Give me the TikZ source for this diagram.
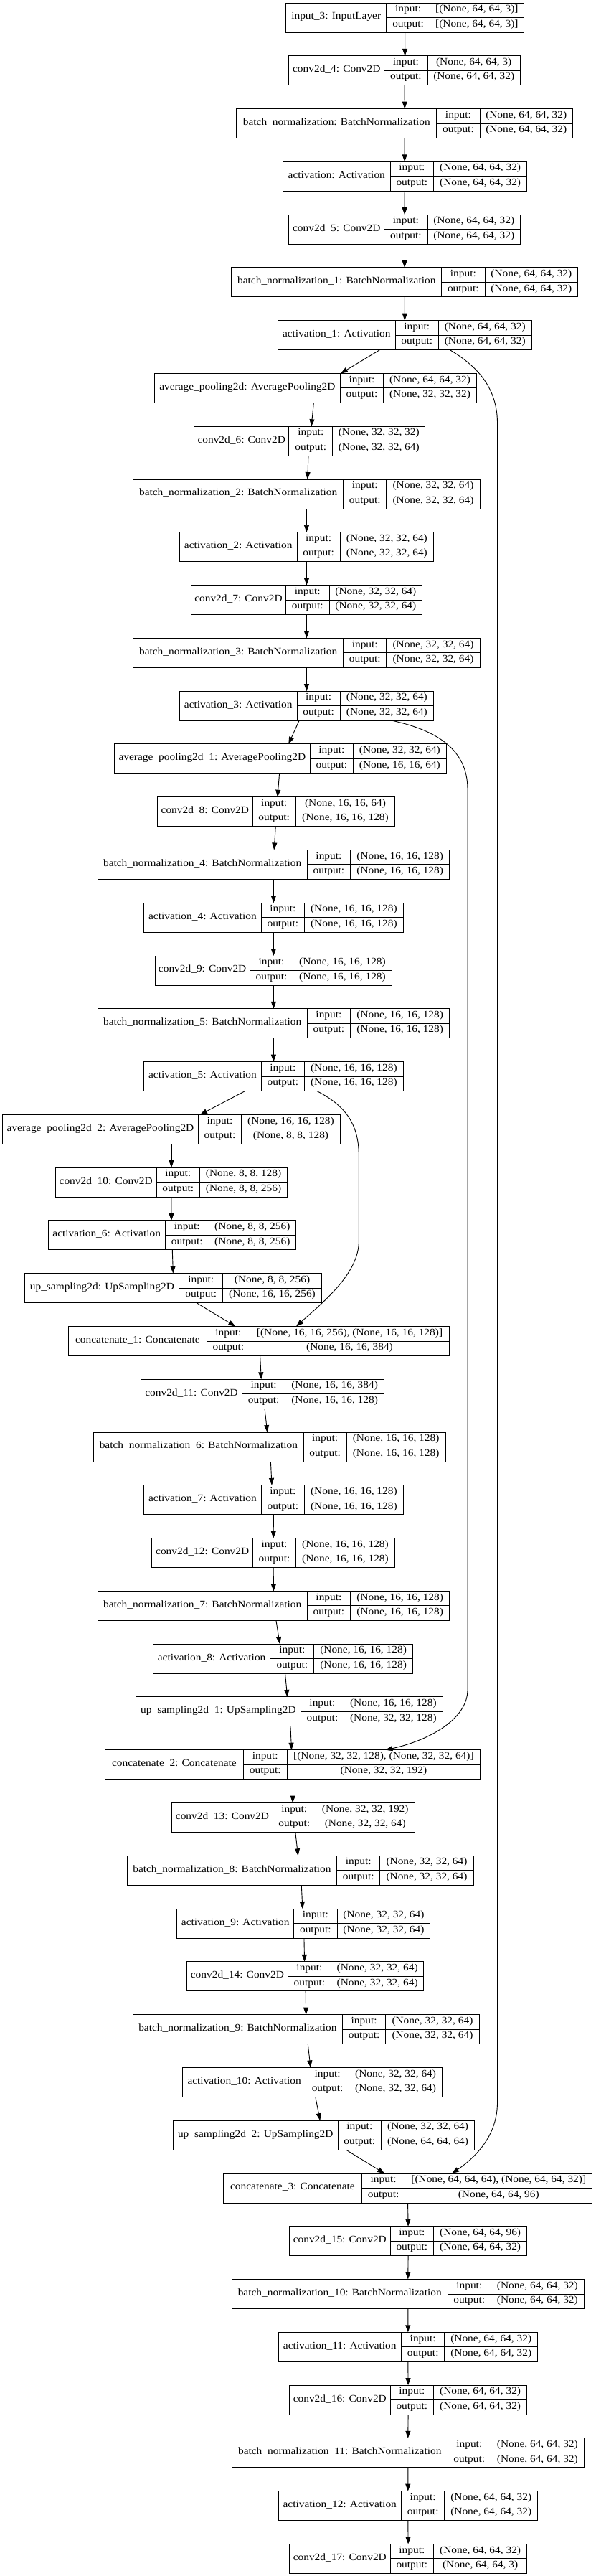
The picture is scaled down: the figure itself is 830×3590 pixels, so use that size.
\documentclass[tikz,border=0pt]{standalone}
\usepackage{fontspec}
\setmainfont{Liberation Serif}[FakeStretch=1.1]
\usetikzlibrary{arrows.meta}
\tikzset{
  box/.style={draw=black, line width=1pt, minimum height=41pt, inner sep=0pt, outer sep=0pt, anchor=north west},
  cell/.style={draw=black, line width=1pt},
  txt/.style={inner sep=0pt, text height=0.7em, text depth=0.22em, font=\fontsize{14pt}{16pt}\selectfont},
  arr/.style={draw=black, line width=0.9pt, -{Triangle[length=10pt,width=7pt]}},
}
% name, xL, x1, x2, xR, row, label, in, out
\newcommand\layer[9]{%
  \pgfmathsetmacro\lyT{4+73.78*#6}%
  \pgfmathsetmacro\lyM{\lyT+20.5}%
  \pgfmathsetmacro\lyB{\lyT+41}%
  \node[box, minimum width={(#5-#2)*1pt}] (#1) at (#2,\lyT) {};
  \draw[cell] (#3,\lyT) -- (#3,\lyB) (#4,\lyT) -- (#4,\lyB) (#3,\lyM) -- (#5,\lyM);
  \node[txt] (#1-l) at ({(#2+#3)/2},{\lyT+20.5}) {#7};
  \node[txt] (#1-ik) at ({(#3+#4)/2},{\lyT+10.25}) {input:};
  \node[txt] (#1-ok) at ({(#3+#4)/2},{\lyT+30.75}) {output:};
  \node[txt] (#1-iv) at ({(#4+#5)/2},{\lyT+10.25}) {#8};
  \node[txt] (#1-ov) at ({(#4+#5)/2},{\lyT+30.75}) {#9};
}
\newcommand\conn[4]{\draw[arr] ([xshift=#2pt]#1.south) -- ([xshift=#4pt]#3.north);}
\begin{document}
\begin{tikzpicture}[x=1pt,y=-1pt]
\useasboundingbox (0,0) rectangle (830,3590);
\layer{input3}{398.6}{538.9}{599.3}{730.5}{0}{input\_3: InputLayer}{[(None, 64, 64, 3)]}{[(None, 64, 64, 3)]}
\layer{conv4}{402.9}{535.7}{596.1}{725.3}{1}{conv2d\_4: Conv2D}{(None, 64, 64, 3)}{(None, 64, 64, 32)}
\layer{bn0}{329.8}{608.8}{669.1}{798.3}{2}{batch\_normalization: BatchNormalization}{(None, 64, 64, 32)}{(None, 64, 64, 32)}
\layer{act0}{394.4}{544.2}{604.5}{734.8}{3}{activation: Activation}{(None, 64, 64, 32)}{(None, 64, 64, 32)}
\layer{conv5}{402.9}{535.7}{596.1}{725.3}{4}{conv2d\_5: Conv2D}{(None, 64, 64, 32)}{(None, 64, 64, 32)}
\layer{bn1}{322.9}{615.7}{676.0}{805.7}{5}{batch\_normalization\_1: BatchNormalization}{(None, 64, 64, 32)}{(None, 64, 64, 32)}
\layer{act1}{387.5}{551.1}{611.4}{741.1}{6}{activation\_1: Activation}{(None, 64, 64, 32)}{(None, 64, 64, 32)}
\layer{ap0}{215.5}{474.3}{534.7}{664.4}{7}{average\_pooling2d: AveragePooling2D}{(None, 64, 64, 32)}{(None, 32, 32, 32)}
\layer{conv6}{270.5}{402.9}{463.7}{592.9}{8}{conv2d\_6: Conv2D}{(None, 32, 32, 32)}{(None, 32, 32, 64)}
\layer{bn2}{185.8}{478.6}{538.9}{669.1}{9}{batch\_normalization\_2: BatchNormalization}{(None, 32, 32, 64)}{(None, 32, 32, 64)}
\layer{act2}{250.4}{414.0}{474.3}{604.5}{10}{activation\_2: Activation}{(None, 32, 32, 64)}{(None, 32, 32, 64)}
\layer{conv7}{266.3}{398.6}{459.0}{588.7}{11}{conv2d\_7: Conv2D}{(None, 32, 32, 64)}{(None, 32, 32, 64)}
\layer{bn3}{185.8}{478.6}{538.9}{669.1}{12}{batch\_normalization\_3: BatchNormalization}{(None, 32, 32, 64)}{(None, 32, 32, 64)}
\layer{act3}{250.4}{414.0}{474.3}{604.5}{13}{activation\_3: Activation}{(None, 32, 32, 64)}{(None, 32, 32, 64)}
\layer{ap1}{159.3}{432.5}{492.3}{622.5}{14}{average\_pooling2d\_1: AveragePooling2D}{(None, 32, 32, 64)}{(None, 16, 16, 64)}
\layer{conv8}{219.7}{352.0}{412.4}{550.6}{15}{conv2d\_8: Conv2D}{(None, 16, 16, 64)}{(None, 16, 16, 128)}
\layer{bn4}{136.1}{428.3}{488.6}{626.8}{16}{batch\_normalization\_4: BatchNormalization}{(None, 16, 16, 128)}{(None, 16, 16, 128)}
\layer{act4}{200.6}{364.2}{424.6}{562.2}{17}{activation\_4: Activation}{(None, 16, 16, 128)}{(None, 16, 16, 128)}
\layer{conv9}{216.0}{348.3}{408.7}{546.3}{18}{conv2d\_9: Conv2D}{(None, 16, 16, 128)}{(None, 16, 16, 128)}
\layer{bn5}{136.1}{428.3}{488.6}{626.8}{19}{batch\_normalization\_5: BatchNormalization}{(None, 16, 16, 128)}{(None, 16, 16, 128)}
\layer{act5}{200.6}{364.2}{424.6}{562.2}{20}{activation\_5: Activation}{(None, 16, 16, 128)}{(None, 16, 16, 128)}
\layer{ap2}{3.7}{276.3}{336.7}{474.3}{21}{average\_pooling2d\_2: AveragePooling2D}{(None, 16, 16, 128)}{(None, 8, 8, 128)}
\layer{conv10}{77.3}{218.1}{278.5}{400.7}{22}{conv2d\_10: Conv2D}{(None, 8, 8, 128)}{(None, 8, 8, 256)}
\layer{act6}{67.2}{230.3}{291.2}{412.4}{23}{activation\_6: Activation}{(None, 8, 8, 256)}{(None, 8, 8, 256)}
\layer{up0}{34.9}{249.9}{310.7}{448.4}{24}{up\_sampling2d: UpSampling2D}{(None, 8, 8, 256)}{(None, 16, 16, 256)}
\layer{cat1}{95.3}{288.5}{348.3}{626.8}{25}{concatenate\_1: Concatenate}{[(None, 16, 16, 256), (None, 16, 16, 128)]}{(None, 16, 16, 384)}
\layer{conv11}{196.4}{337.7}{397.6}{535.7}{26}{conv2d\_11: Conv2D}{(None, 16, 16, 384)}{(None, 16, 16, 128)}
\layer{bn6}{130.8}{423.0}{483.3}{621.0}{27}{batch\_normalization\_6: BatchNormalization}{(None, 16, 16, 128)}{(None, 16, 16, 128)}
\layer{act7}{200.6}{364.2}{424.6}{562.2}{28}{activation\_7: Activation}{(None, 16, 16, 128)}{(None, 16, 16, 128)}
\layer{conv12}{211.8}{352.6}{412.4}{550.6}{29}{conv2d\_12: Conv2D}{(None, 16, 16, 128)}{(None, 16, 16, 128)}
\layer{bn7}{136.1}{428.3}{488.6}{626.8}{30}{batch\_normalization\_7: BatchNormalization}{(None, 16, 16, 128)}{(None, 16, 16, 128)}
\layer{act8}{213.3}{376.9}{437.8}{575.4}{31}{activation\_8: Activation}{(None, 16, 16, 128)}{(None, 16, 16, 128)}
\layer{up1}{189.5}{419.3}{479.6}{617.2}{32}{up\_sampling2d\_1: UpSampling2D}{(None, 16, 16, 128)}{(None, 32, 32, 128)}
\layer{cat2}{146.6}{339.3}{400.2}{669.7}{33}{concatenate\_2: Concatenate}{[(None, 32, 32, 128), (None, 32, 32, 64)]}{(None, 32, 32, 192)}
\layer{conv13}{239.8}{380.1}{440.4}{578.1}{34}{conv2d\_13: Conv2D}{(None, 32, 32, 192)}{(None, 32, 32, 64)}
\layer{bn8}{177.3}{469.6}{529.9}{660.1}{35}{batch\_normalization\_8: BatchNormalization}{(None, 32, 32, 64)}{(None, 32, 32, 64)}
\layer{act9}{246.7}{409.7}{470.1}{599.8}{36}{activation\_9: Activation}{(None, 32, 32, 64)}{(None, 32, 32, 64)}
\layer{conv14}{260.5}{401.3}{461.6}{590.8}{37}{conv2d\_14: Conv2D}{(None, 32, 32, 64)}{(None, 32, 32, 64)}
\layer{bn9}{185.3}{477.5}{537.8}{668.1}{38}{batch\_normalization\_9: BatchNormalization}{(None, 32, 32, 64)}{(None, 32, 32, 64)}
\layer{act10}{254.6}{426.7}{486.5}{616.7}{39}{activation\_10: Activation}{(None, 32, 32, 64)}{(None, 32, 32, 64)}
\layer{up2}{241.4}{471.1}{531.5}{661.7}{40}{up\_sampling2d\_2: UpSampling2D}{(None, 32, 32, 64)}{(None, 64, 64, 64)}
\layer{cat3}{311.3}{504.5}{564.8}{825.8}{41}{concatenate\_3: Concatenate}{[(None, 64, 64, 64), (None, 64, 64, 32)]}{(None, 64, 64, 96)}
\layer{conv15}{403.4}{544.2}{604.5}{734.8}{42}{conv2d\_15: Conv2D}{(None, 64, 64, 96)}{(None, 64, 64, 32)}
\layer{bn10}{323.4}{624.1}{684.5}{814.2}{43}{batch\_normalization\_10: BatchNormalization}{(None, 64, 64, 32)}{(None, 64, 64, 32)}
\layer{act11}{388.0}{559.5}{619.9}{749.6}{44}{activation\_11: Activation}{(None, 64, 64, 32)}{(None, 64, 64, 32)}
\layer{conv16}{403.4}{544.2}{604.5}{734.8}{45}{conv2d\_16: Conv2D}{(None, 64, 64, 32)}{(None, 64, 64, 32)}
\layer{bn11}{323.4}{624.1}{684.5}{814.2}{46}{batch\_normalization\_11: BatchNormalization}{(None, 64, 64, 32)}{(None, 64, 64, 32)}
\layer{act12}{388.0}{559.5}{619.9}{749.6}{47}{activation\_12: Activation}{(None, 64, 64, 32)}{(None, 64, 64, 32)}
\layer{conv17}{403.4}{544.2}{604.5}{734.8}{48}{conv2d\_17: Conv2D}{(None, 64, 64, 32)}{(None, 64, 64, 3)}
% straight / short connectors
\conn{input3}{0}{conv4}{0.5}
\conn{conv4}{0}{bn0}{0.2}
\conn{bn0}{0}{act0}{-0.4}
\conn{act0}{-0.4}{conv5}{0}
\conn{conv5}{0}{bn1}{-0.2}
\conn{bn1}{0}{act1}{0}
\conn{act1}{-34.9}{ap0}{35.0}
\conn{ap0}{-2.6}{conv6}{2.4}
\conn{conv6}{-1.8}{bn2}{1.3}
\conn{bn2}{0}{act2}{0}
\conn{act2}{0}{conv7}{0}
\conn{conv7}{0}{bn3}{0}
\conn{bn3}{0}{act3}{0}
\conn{act3}{-10.3}{ap1}{11.4}
\conn{ap1}{-1.3}{conv8}{1.8}
\conn{conv8}{-0.9}{bn4}{0.7}
\conn{bn4}{0}{act4}{0}
\conn{act4}{0}{conv9}{0.2}
\conn{conv9}{0.2}{bn5}{0}
\conn{bn5}{0}{act5}{0}
\conn{act5}{-39.9}{ap2}{40.0}
\conn{ap2}{0}{conv10}{0}
\conn{conv10}{0}{act6}{-0.8}
\conn{act6}{0.5}{up0}{-0.3}
\conn{up0}{32.5}{cat1}{-32.8}
\conn{cat1}{1.6}{conv11}{-1.8}
\conn{conv11}{3.0}{bn6}{-3.2}
\conn{bn6}{1.5}{act7}{-2.4}
\conn{act7}{0}{conv12}{0}
\conn{conv12}{0}{bn7}{0}
\conn{bn7}{3.5}{act8}{-4.2}
\conn{act8}{3.2}{up1}{-2.7}
\conn{up1}{1.6}{cat2}{-1.6}
\conn{cat2}{0}{conv13}{-0.8}
\conn{conv13}{2.9}{bn8}{-3.1}
\conn{bn8}{1.6}{act9}{-1.4}
\conn{act9}{0.7}{conv14}{-1.1}
\conn{conv14}{0.5}{bn9}{0}
\conn{bn9}{2.6}{act10}{-2.7}
\conn{act10}{4.2}{up2}{-5.3}
\conn{up2}{31.2}{cat3}{-32.3}
\conn{cat3}{0}{conv15}{0}
\conn{conv15}{0}{bn10}{0}
\conn{bn10}{0}{act11}{0}
\conn{act11}{0}{conv16}{0}
\conn{conv16}{0}{bn11}{0}
\conn{bn11}{0}{act12}{0}
\conn{act12}{0}{conv17}{0}
% skip connectors
\draw[arr] ([xshift=63pt]act1.south) .. controls (665,510) and (693.5,540) .. (693.5,590)
  -- (693.5,2930) .. controls (693.5,2975) and (665,3005) .. ([xshift=61.5pt]cat3.north);
\draw[arr] ([xshift=118.8pt]act3.south) .. controls (610,1018) and (652,1045) .. (652,1100)
  -- (652,2355) .. controls (652,2395) and (600,2425) .. ([xshift=129.2pt]cat2.north);
\draw[arr] ([xshift=60.6pt]act5.south) .. controls (480,1540) and (500.3,1565) .. (500.3,1610)
  -- (500.3,1730) .. controls (500.3,1775) and (450,1815) .. ([xshift=51.9pt]cat1.north);
\end{tikzpicture}
\end{document}
